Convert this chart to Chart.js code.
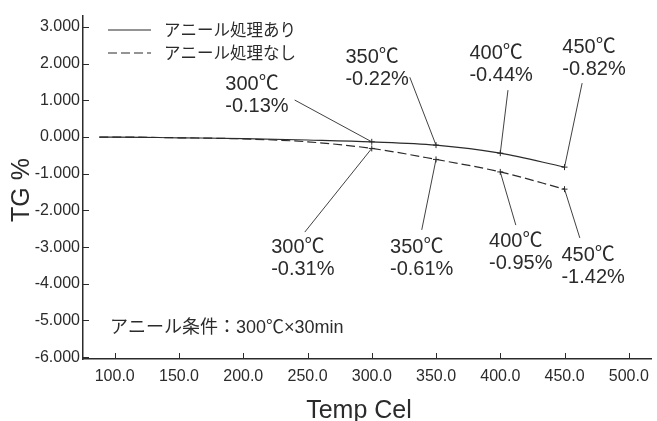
<!DOCTYPE html>
<html>
<head>
<meta charset="utf-8">
<script src="https://cdn.jsdelivr.net/npm/chart.js"></script>
<style>
  body { margin: 0; background: #fff; }
  #wrap { width: 657px; height: 421px; }
</style>
</head>
<body>
<div id="wrap"><canvas id="grafico"></canvas></div>
<script>
const temps = [88, 100, 150, 200, 250, 300, 350, 400, 450];
const annealed = [0, 0, -0.02, -0.04, -0.08, -0.13, -0.22, -0.44, -0.82];
const unannealed = [0, 0, -0.02, -0.05, -0.13, -0.31, -0.61, -0.95, -1.42];
const seriesNames = ['アニール処理あり', 'アニール処理なし'];
const markedTemps = [300, 350, 400, 450];
const xTicks = [100, 150, 200, 250, 300, 350, 400, 450, 500];
const yTicks = [3, 2, 1, 0, -1, -2, -3, -4, -5, -6];
const note = 'アニール条件：300℃×30min';

// where each callout label sits (in axis units) and where its leader starts
const callouts = [
  [ // annealed, labels above
    { label: [186, 1.42], from: [240, 1.01] },
    { label: [279.5, 2.18], from: [329.6, 1.63] },
    { label: [376, 2.29], from: [406, 1.28] },
    { label: [448.3, 2.43], from: [463.7, 1.47] }
  ],
  [ // not annealed, labels below
    { label: [221.7, -3.02], from: [247.9, -2.59] },
    { label: [314.2, -3.02], from: [338.9, -2.53] },
    { label: [391.3, -2.86], from: [412.1, -2.40] },
    { label: [447.6, -3.22], from: [461.9, -2.75] }
  ]
];

const ink = '#2b2b2b';
const textFont = '"Liberation Sans", Arial, "Noto Sans CJK JP", sans-serif';
const jpFont = '"Noto Sans CJK JP", sans-serif';

const extras = {
  id: 'extras',
  afterDraw(chart) {
    const { ctx, scales: { x, y }, chartArea } = chart;
    ctx.save();
    ctx.strokeStyle = ink;
    ctx.fillStyle = ink;

    // inward tick marks
    ctx.lineWidth = 1;
    ctx.beginPath();
    yTicks.forEach(v => {
      const py = Math.round(y.getPixelForValue(v)) + 0.5;
      ctx.moveTo(chartArea.left, py);
      ctx.lineTo(chartArea.left + 6, py);
    });
    xTicks.forEach(v => {
      const px = Math.round(x.getPixelForValue(v)) + 0.5;
      ctx.moveTo(px, chartArea.bottom);
      ctx.lineTo(px, chartArea.bottom - 6);
    });
    ctx.stroke();

    // callouts
    chart.data.datasets.forEach((ds, di) => {
      callouts[di].forEach((c, i) => {
        const t = markedTemps[i];
        const v = ds.data[temps.indexOf(t)];
        ctx.lineWidth = 0.9;
        ctx.beginPath();
        ctx.moveTo(x.getPixelForValue(c.from[0]), y.getPixelForValue(c.from[1]));
        ctx.lineTo(x.getPixelForValue(t), y.getPixelForValue(v));
        ctx.stroke();
        const lx = x.getPixelForValue(c.label[0]);
        const ly = y.getPixelForValue(c.label[1]);
        ctx.font = '20px ' + textFont;
        ctx.textAlign = 'left';
        ctx.textBaseline = 'middle';
        ctx.fillText(t + '℃', lx, ly);
        ctx.fillText(v.toFixed(2) + '%', lx, ly + 22);
      });
    });

    // legend
    chart.data.datasets.forEach((ds, di) => {
      const ly = 30 + di * 23;
      ctx.lineWidth = 1.2;
      ctx.setLineDash(ds.borderDash || []);
      ctx.beginPath();
      ctx.moveTo(108, ly);
      ctx.lineTo(151, ly);
      ctx.stroke();
      ctx.setLineDash([]);
      ctx.font = '16.5px ' + jpFont;
      ctx.textAlign = 'left';
      ctx.textBaseline = 'middle';
      ctx.fillText(ds.label, 164, ly);
    });

    // note
    ctx.font = '18px ' + textFont;
    ctx.fillText(note, 110, y.getPixelForValue(-5.2));

    // axis titles
    ctx.font = '25px ' + textFont;
    ctx.textAlign = 'center';
    ctx.textBaseline = 'alphabetic';
    ctx.fillText('Temp Cel', 359, 418);
    ctx.translate(29, 190);
    ctx.rotate(-Math.PI / 2);
    ctx.fillText('TG %', 0, 0);
    ctx.restore();
  }
};

const pointSize = ctx => markedTemps.includes(temps[ctx.dataIndex]) ? 3 : 0;

new Chart(document.getElementById('grafico'), {
  type: 'line',
  data: {
    labels: temps,
    datasets: [
      {
        label: seriesNames[0],
        data: annealed,
        borderColor: ink,
        borderWidth: 1.2,
        pointStyle: 'cross',
        pointRadius: pointSize,
        pointBorderColor: ink,
        pointBorderWidth: 1,
        cubicInterpolationMode: 'monotone'
      },
      {
        label: seriesNames[1],
        data: unannealed,
        borderColor: ink,
        borderWidth: 1.2,
        borderDash: [9, 4],
        pointStyle: 'cross',
        pointRadius: pointSize,
        pointBorderColor: ink,
        pointBorderWidth: 1,
        cubicInterpolationMode: 'monotone'
      }
    ]
  },
  options: {
    responsive: true,
    maintainAspectRatio: false,
    animation: false,
    layout: { padding: { top: 16, right: 0, bottom: 0, left: 0 } },
    plugins: { legend: { display: false }, tooltip: { enabled: false } },
    scales: {
      x: {
        type: 'linear',
        min: 75.3,
        max: 518,
        afterBuildTicks: s => { s.ticks = xTicks.map(v => ({ value: v })); },
        afterFit: s => { s.height = 62; },
        grid: { display: false, drawTicks: false },
        border: { display: true, color: ink, width: 1.5 },
        ticks: {
          color: ink,
          font: { family: textFont, size: 16 },
          padding: 8,
          maxRotation: 0,
          autoSkip: false,
          callback: v => v.toFixed(1)
        }
      },
      y: {
        min: -6.05,
        max: 3.3,
        afterBuildTicks: s => { s.ticks = yTicks.map(v => ({ value: v })); },
        afterFit: s => { s.width = 83; },
        grid: { display: false, drawTicks: false },
        border: { display: true, color: ink, width: 1.5 },
        ticks: {
          color: ink,
          font: { family: textFont, size: 16 },
          padding: 3,
          autoSkip: false,
          callback: v => v.toFixed(3)
        }
      }
    }
  },
  plugins: [extras]
});
</script>
</body>
</html>
